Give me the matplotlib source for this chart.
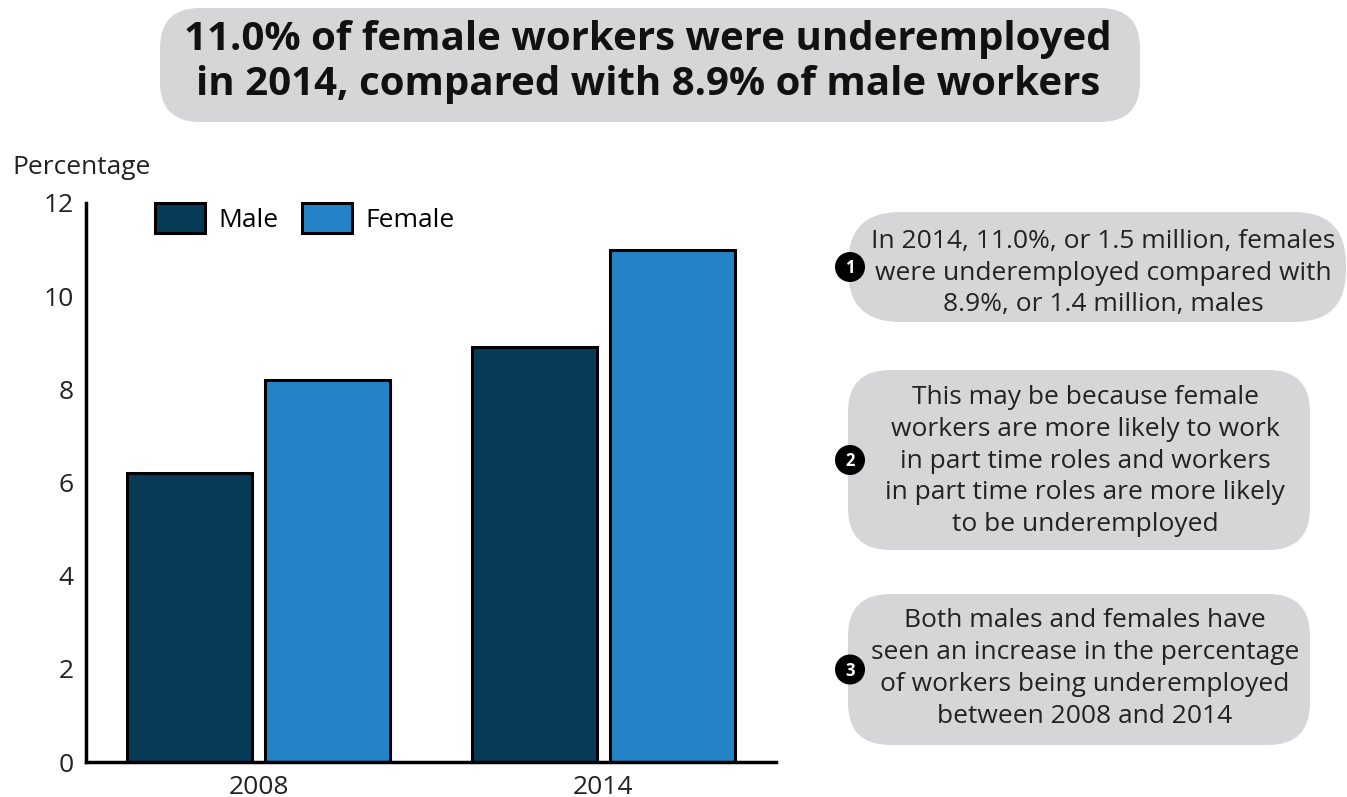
import numpy as np
import matplotlib
matplotlib.use("Agg")
import matplotlib.pyplot as plt
from matplotlib.patches import FancyBboxPatch, Circle

plt.rcParams['font.family'] = ['Open Sans', 'DejaVu Sans']

# data
years = ['2008', '2014']
male = [6.2, 8.9]
female = [8.2, 11.0]
yticks = [0, 2, 4, 6, 8, 10, 12]

title = "11.0% of female workers were underemployed\nin 2014, compared with 8.9% of male workers"
notes = [
    "In 2014, 11.0%, or 1.5 million, females\nwere underemployed compared with\n8.9%, or 1.4 million, males",
    "This may be because female\nworkers are more likely to work\nin part time roles and workers\nin part time roles are more likely\nto be underemployed",
    "Both males and females have\nseen an increase in the percentage\nof workers being underemployed\nbetween 2008 and 2014",
]

male_col = '#073a57'
female_col = '#2383c6'
box_col = '#d6d6d8'
txt_col = '#222222'

W, H = 1347, 797
fig = plt.figure(figsize=(W / 100, H / 100), dpi=100)

# pixel-space layer for the rounded panels
bg = fig.add_axes([0, 0, 1, 1], zorder=0)
bg.set_xlim(0, W)
bg.set_ylim(H, 0)
bg.axis('off')

bg.add_patch(FancyBboxPatch((160, 8), 980, 114, boxstyle="round,pad=0,rounding_size=40",
                            fc=box_col, ec='none'))
bg.text(648, 62, title, ha='center', va='center', fontsize=29, fontweight='bold',
        linespacing=1.22, color='#111111')

# (x, y, w, h, corner radius, text nudge)
panels = [(848, 212, 498, 110, 52, 6), (848, 370, 462, 180, 42, 1), (848, 594, 462, 151, 42, -1)]
for i, ((x, y, w, h, r, dy), txt) in enumerate(zip(panels, notes)):
    bg.add_patch(FancyBboxPatch((x, y), w, h, boxstyle=f"round,pad=0,rounding_size={r}",
                                fc=box_col, ec='none'))
    bg.text(x + w / 2 + 6, y + h / 2 + dy, txt, ha='center', va='center', fontsize=19,
            linespacing=1.36, color=txt_col)
    bg.add_patch(Circle((x + 2, y + h / 2), 15, fc='black', ec='none'))
    bg.text(x + 2, y + h / 2 + 1, str(i + 1), ha='center', va='center', fontsize=12,
            fontweight='bold', color='white')

# bar chart
ax = fig.add_axes([86 / W, 1 - 762 / H, 690 / W, 559 / H], zorder=1)
ax.patch.set_alpha(0)
x = np.arange(len(years))
bw = 0.362
ax.bar(x - 0.2, male, bw, color=male_col, edgecolor='black', linewidth=2.2, label='Male')
ax.bar(x + 0.2, female, bw, color=female_col, edgecolor='black', linewidth=2.2, label='Female')

ax.set_xlim(-0.5, 1.5)
ax.set_ylim(0, 12)
ax.set_yticks(yticks)
ax.set_xticks(x)
ax.set_xticklabels(years)
ax.tick_params(length=0, labelsize=19, colors=txt_col)
ax.tick_params(axis='y', pad=9)
ax.tick_params(axis='x', pad=9)
for s in ['top', 'right']:
    ax.spines[s].set_visible(False)
for s in ['left', 'bottom']:
    ax.spines[s].set_linewidth(2.5)
    ax.spines[s].set_color('black')

fig.text(12 / W, 1 - 168 / H, 'Percentage', fontsize=19, va='center', color=txt_col)

leg = ax.legend(loc='upper left', bbox_to_anchor=(69 / 690, 1.0), ncol=2, frameon=False,
                fontsize=19, handlelength=1.9, handleheight=1.35, columnspacing=0.9,
                handletextpad=0.5, borderpad=0, borderaxespad=0)

fig.savefig('out.png', dpi=100)
